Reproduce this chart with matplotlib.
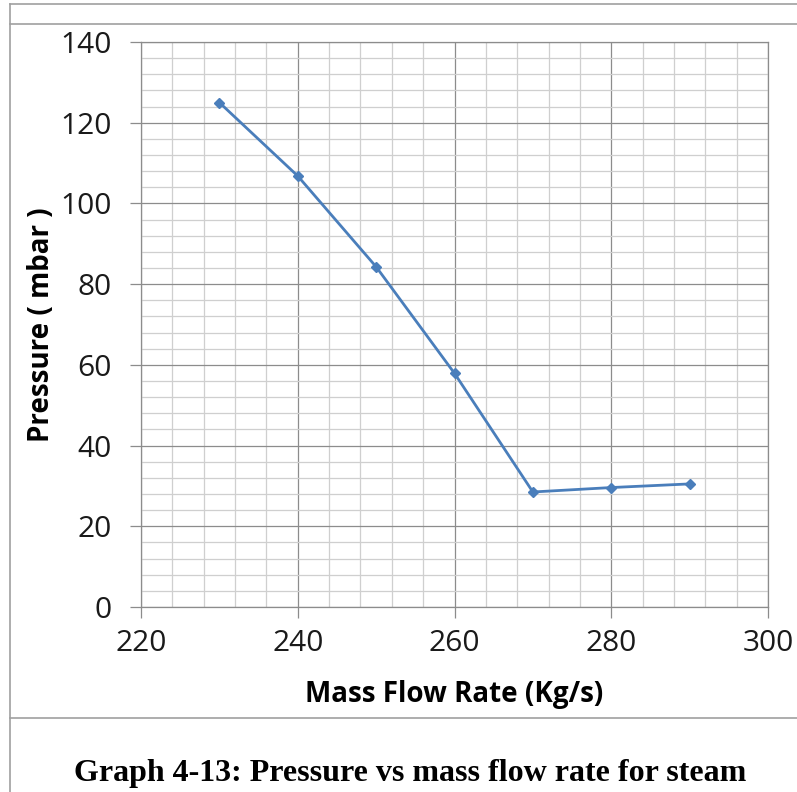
import matplotlib
matplotlib.use("Agg")
import matplotlib.pyplot as plt
from matplotlib.lines import Line2D
from matplotlib.ticker import MultipleLocator

# values
mass_flow = [230, 240, 250, 260, 270, 280, 290]
pressure = [125.0, 106.8, 84.3, 57.9, 28.5, 29.6, 30.5]

x_ticks = [220, 240, 260, 280, 300]
y_ticks = [0, 20, 40, 60, 80, 100, 120, 140]

LINE_BLUE = "#4a7ebb"
MAJOR_GRAY = "#8c8c8c"
MINOR_GRAY = "#cfcfcf"
FRAME_GRAY = "#a0a0a0"

plt.rcParams["font.family"] = ["Open Sans", "DejaVu Sans"]

W, H = 797, 792
fig = plt.figure(figsize=(W / 100, H / 100), dpi=100)

left, right, top, bottom = 141, 768, 42, 607
ax = fig.add_axes([left / W, 1 - bottom / H, (right - left) / W, (bottom - top) / H])

ax.plot(mass_flow, pressure, color=LINE_BLUE, linewidth=2.0,
        marker="D", markersize=5, markerfacecolor=LINE_BLUE, markeredgecolor=LINE_BLUE)

ax.set_xlim(x_ticks[0], x_ticks[-1])
ax.set_ylim(y_ticks[0], y_ticks[-1])
ax.set_xticks(x_ticks)
ax.set_yticks(y_ticks)
ax.xaxis.set_minor_locator(MultipleLocator(4))
ax.yaxis.set_minor_locator(MultipleLocator(4))

ax.grid(True, which="major", color=MAJOR_GRAY, linewidth=0.9)
ax.grid(True, which="minor", color=MINOR_GRAY, linewidth=0.9)
ax.set_axisbelow(True)

for s in ax.spines.values():
    s.set_color(MAJOR_GRAY)
    s.set_linewidth(0.9)

ax.tick_params(which="major", length=8, width=0.9, color=MAJOR_GRAY,
               labelsize=21.5, labelcolor="#1a1a1a")
ax.tick_params(axis="x", which="major", pad=8)
ax.tick_params(axis="y", which="major", pad=13)
ax.tick_params(which="minor", length=0)

ax.set_xlabel("Mass Flow Rate (Kg/s)", fontsize=20, fontweight="bold", labelpad=16)
ax.set_ylabel("Pressure ( mbar )", fontsize=20, fontweight="bold", labelpad=3)

# outer frame lines around the chart
def hline(y, x0=10, x1=W):
    fig.add_artist(Line2D([x0 / W, x1 / W], [1 - y / H, 1 - y / H],
                          color=FRAME_GRAY, linewidth=1.2))

hline(4)
hline(24)
hline(718)
fig.add_artist(Line2D([10 / W, 10 / W], [1 - 4 / H, 0], color=FRAME_GRAY, linewidth=1.2))

fig.text(410 / W, 1 - 774 / H, "Graph 4-13: Pressure vs mass flow rate for steam",
         ha="center", va="center", fontsize=23, fontweight="bold",
         family=["Liberation Serif", "DejaVu Serif"])

fig.savefig("out.png", dpi=100)
